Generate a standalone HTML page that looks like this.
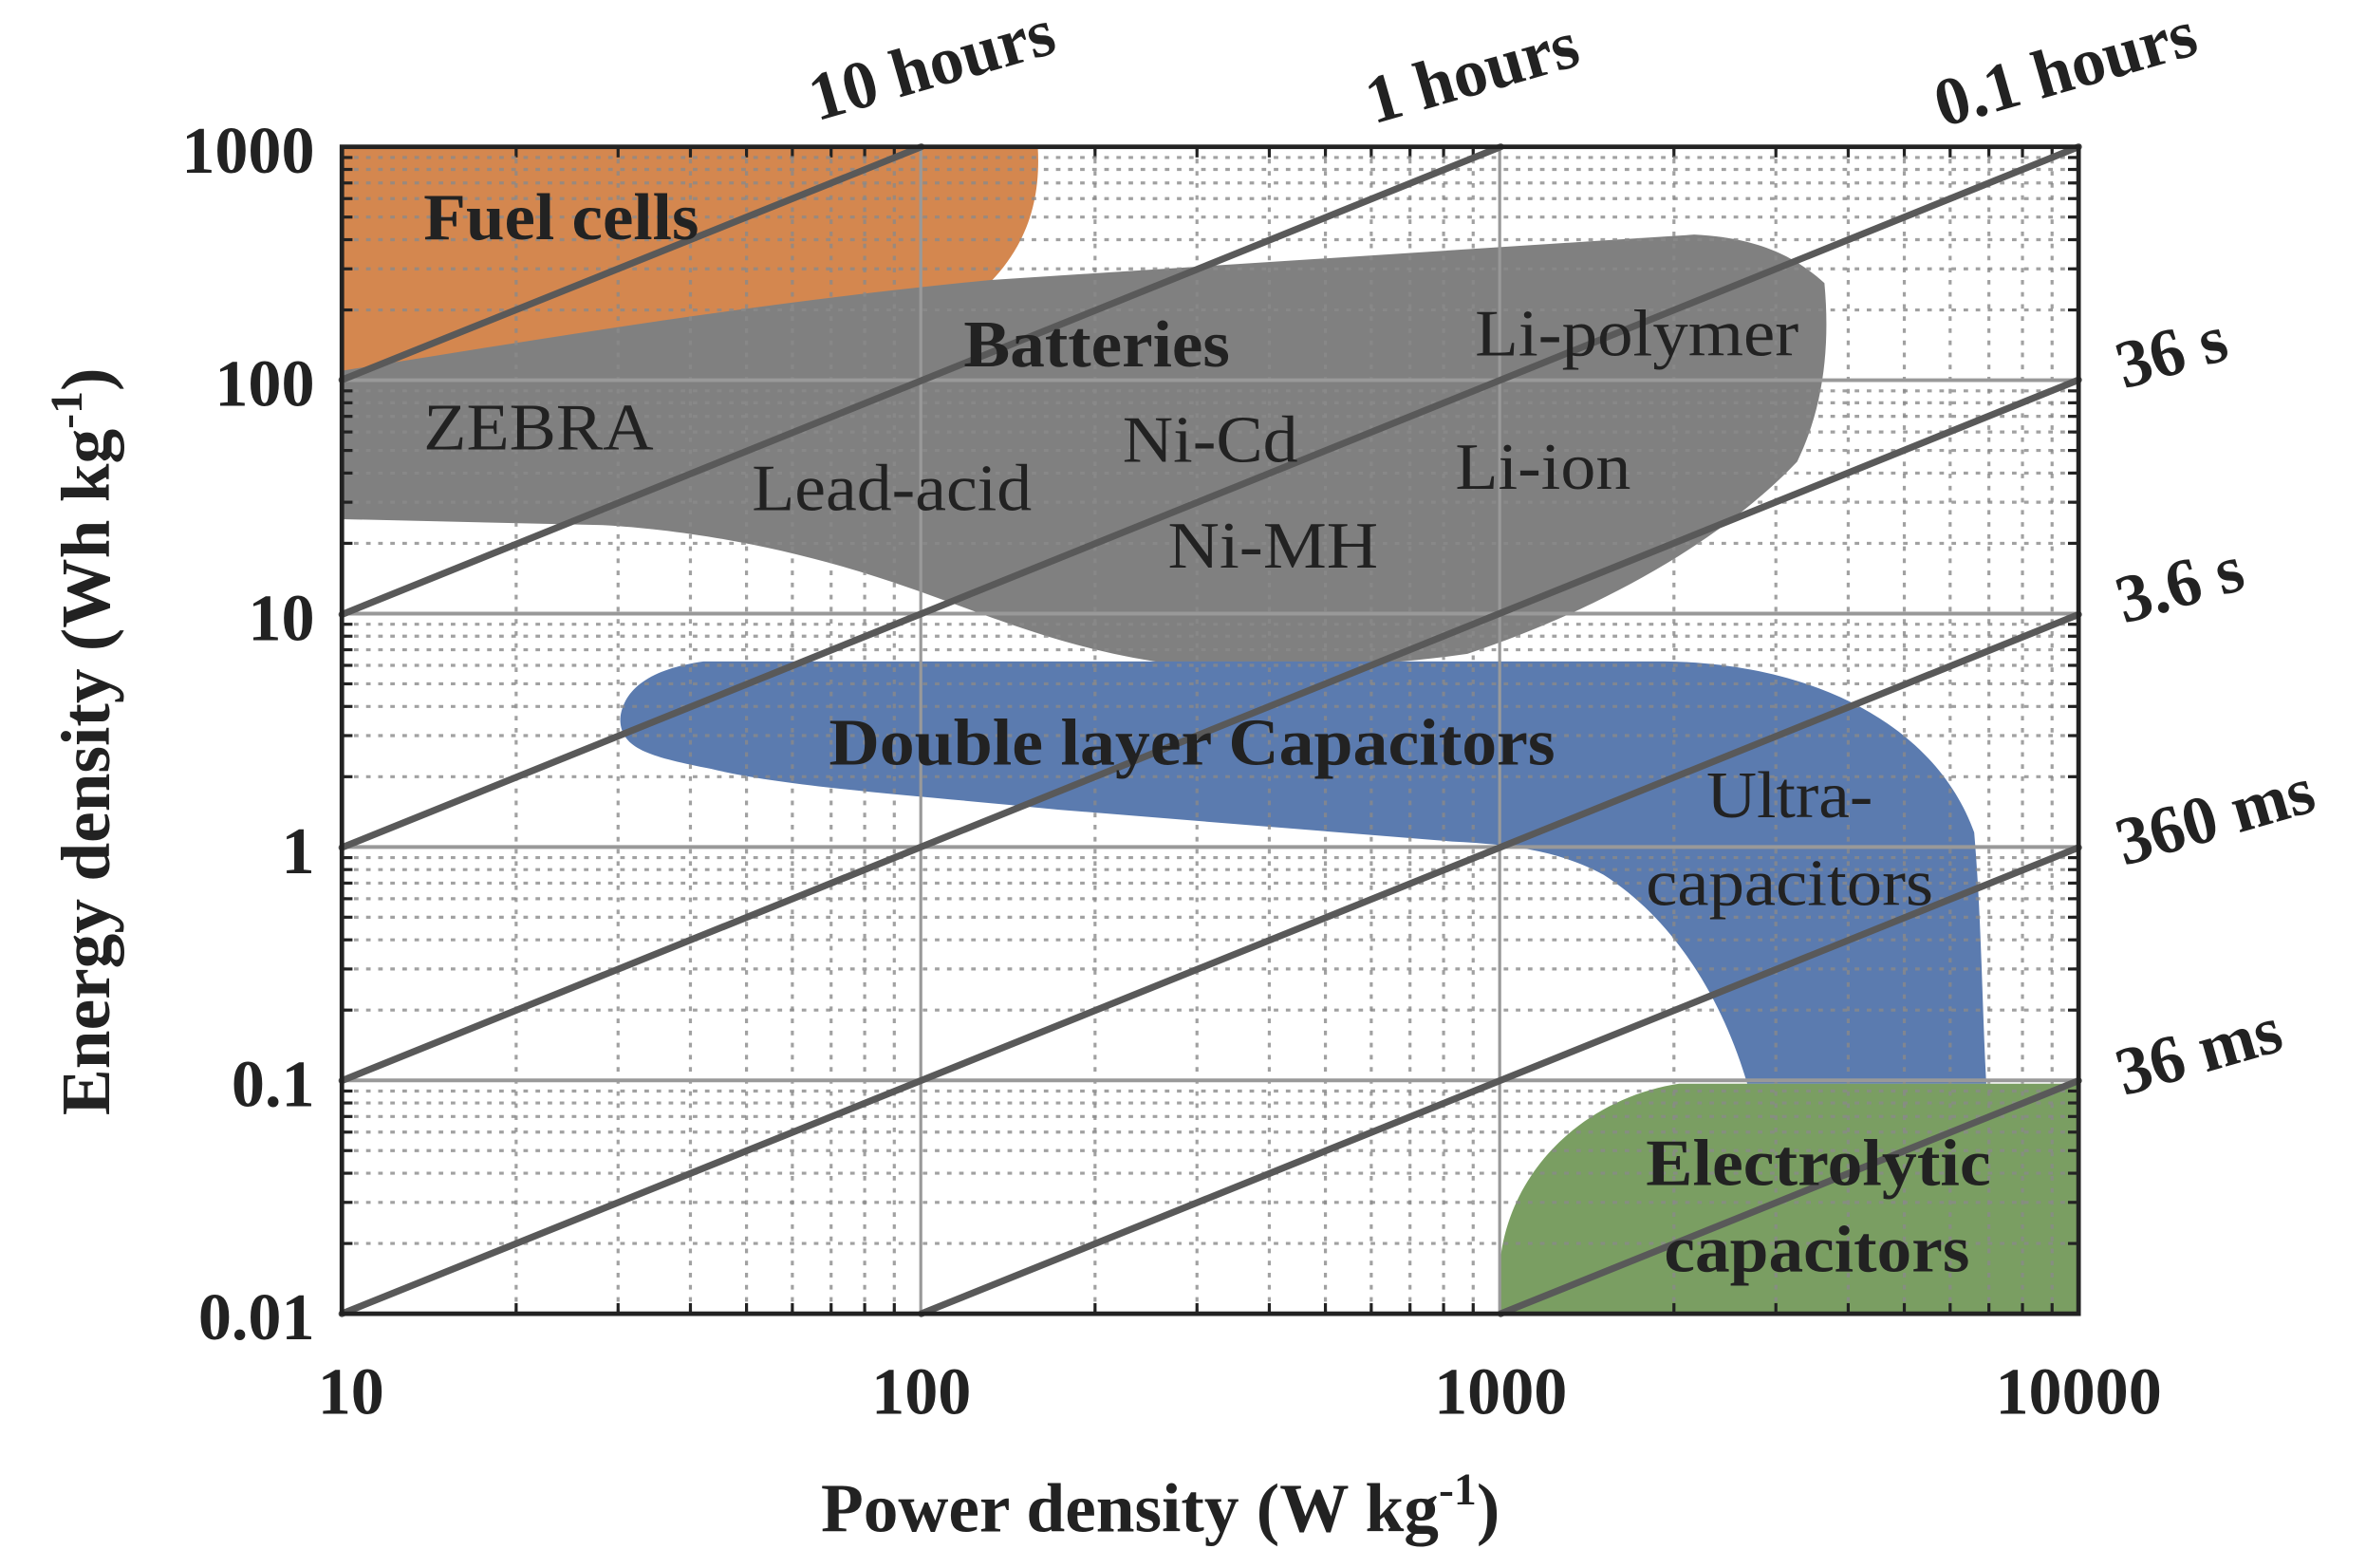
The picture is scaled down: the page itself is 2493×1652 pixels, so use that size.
<!DOCTYPE html>
<html><head><meta charset="utf-8"><style>
html,body{margin:0;padding:0;background:#fff;}
svg{display:block;}
text{font-family:"Liberation Serif",serif;fill:#222;}
.b{font-weight:bold;}
</style></head><body>
<svg id="s" width="2493" height="1652" viewBox="0 0 1564 1036" preserveAspectRatio="none" xmlns="http://www.w3.org/2000/svg">
<path d="M226,97 L686,97 C688,130 680,160 655,186 L226,246 Z" fill="#D4874F"/>
<path d="M226,245 C350,225 500,200 655,185 L1120,155 C1160,157 1185,168 1206,187 C1210,230 1205,270 1188,305 C1150,345 1080,395 970,432 C900,442 830,442 770,438 C700,428 650,405 600,388 C520,360 450,350 400,347 L226,343 Z" fill="#808080"/>
<path d="M410,475 C412,455 430,442 465,437 L1100,437 C1200,438 1280,480 1305,550 C1310,610 1310,660 1313,716 L1155,716 C1140,665 1110,610 1060,578 C1030,562 1000,558 960,556 L700,535 C600,525 520,520 470,508 C430,500 410,495 410,475 Z" fill="#5B7BAF"/>
<path d="M992,868 L992,830 C1000,770 1050,725 1110,716 L1374,716 L1374,868 Z" fill="#7A9E62"/>
<g id="grid"></g>
<g stroke="#595959" stroke-width="4.5" stroke-linecap="round">
<line x1="226" y1="251" x2="609" y2="97"/>
<line x1="226" y1="406" x2="992" y2="97"/>
<line x1="226" y1="560" x2="1374" y2="97"/>
<line x1="226" y1="714" x2="1374" y2="251"/>
<line x1="226" y1="868" x2="1374" y2="406"/>
<line x1="609" y1="868" x2="1374" y2="560"/>
<line x1="992" y1="868" x2="1374" y2="714"/>
</g>
<rect x="226" y="97" width="1148" height="771" fill="none" stroke="#222" stroke-width="3"/>
<g font-size="44">
<text x="280" y="158" class="b" textLength="182" lengthAdjust="spacingAndGlyphs">Fuel cells</text>
<text x="637" y="242" class="b" textLength="176" lengthAdjust="spacingAndGlyphs">Batteries</text>
<text x="280" y="297" textLength="152" lengthAdjust="spacingAndGlyphs">ZEBRA</text>
<text x="497" y="337" textLength="185" lengthAdjust="spacingAndGlyphs">Lead-acid</text>
<text x="742" y="305" textLength="116" lengthAdjust="spacingAndGlyphs">Ni-Cd</text>
<text x="772" y="375" textLength="139" lengthAdjust="spacingAndGlyphs">Ni-MH</text>
<text x="975" y="235" textLength="214" lengthAdjust="spacingAndGlyphs">Li-polymer</text>
<text x="962" y="323" textLength="116" lengthAdjust="spacingAndGlyphs">Li-ion</text>
<text x="548" y="505" class="b" textLength="480" lengthAdjust="spacingAndGlyphs">Double layer Capacitors</text>
<text x="1128" y="540" textLength="110" lengthAdjust="spacingAndGlyphs">Ultra-</text>
<text x="1088" y="598" textLength="190" lengthAdjust="spacingAndGlyphs">capacitors</text>
<text x="1088" y="783" class="b" textLength="228" lengthAdjust="spacingAndGlyphs">Electrolytic</text>
<text x="1100" y="840" class="b" textLength="202" lengthAdjust="spacingAndGlyphs">capacitors</text>
</g>
<g font-size="44" class="b" text-anchor="end">
<text x="208" y="114">1000</text>
<text x="208" y="268">100</text>
<text x="208" y="423">10</text>
<text x="208" y="577">1</text>
<text x="208" y="731">0.1</text>
<text x="208" y="885">0.01</text>
</g>
<g font-size="44" class="b" text-anchor="middle">
<text x="232" y="934">10</text>
<text x="609" y="934">100</text>
<text x="992" y="934">1000</text>
<text x="1374" y="934">10000</text>
</g>
<g font-size="45" class="b">
<text transform="translate(540,80) rotate(-16)">10 hours</text>
<text transform="translate(908,82) rotate(-16)">1 hours</text>
<text transform="translate(1284,84) rotate(-16)">0.1 hours</text>
<text transform="translate(1404,257) rotate(-16)">36 s</text>
<text transform="translate(1404,412) rotate(-16)">3.6 s</text>
<text transform="translate(1404,572) rotate(-16)">360 ms</text>
<text transform="translate(1404,724) rotate(-16)">36 ms</text>
</g>
<text x="767" y="1012" font-size="46" class="b" text-anchor="middle">Power density (W kg<tspan font-size="30" dy="-18">-1</tspan><tspan dy="18">)</tspan></text>
<text transform="translate(72,490) rotate(-90)" font-size="46" class="b" text-anchor="middle">Energy density (Wh kg<tspan font-size="30" dy="-18">-1</tspan><tspan dy="18">)</tspan></text>
</svg>
<script>
(function(){
var g=document.getElementById('grid');
var L=226,R=1374,T=97,B=868,dx=(R-L)/3,dy=(B-T)/5,s='';
function ln(x1,y1,x2,y2,a){s+='<line x1="'+x1+'" y1="'+y1+'" x2="'+x2+'" y2="'+y2+'" '+a+'/>';}
for(var d=0;d<3;d++)for(var k=2;k<=9;k++){var x=L+dx*(d+Math.log10(k));
 ln(x,T,x,B,'stroke="#8a8a8a" stroke-opacity="0.8" stroke-width="2" stroke-dasharray="3,5"');
 ln(x,T,x,T+7,'stroke="#222" stroke-width="2"');ln(x,B,x,B-7,'stroke="#222" stroke-width="2"');}
for(var d=0;d<5;d++)for(var k=2;k<=9;k++){var y=B-dy*(d+Math.log10(k));
 ln(L,y,R,y,'stroke="#8a8a8a" stroke-opacity="0.8" stroke-width="2" stroke-dasharray="3,5"');
 ln(L,y,L+7,y,'stroke="#222" stroke-width="2"');ln(R,y,R-7,y,'stroke="#222" stroke-width="2"');}
for(var d=1;d<3;d++){var x=L+dx*d;ln(x,T,x,B,'stroke="#999" stroke-width="2"');}
for(var d=1;d<5;d++){var y=B-dy*d;ln(L,y,R,y,'stroke="#999" stroke-width="2.5"');}
g.innerHTML=s;
})();
</script>
</body></html>
